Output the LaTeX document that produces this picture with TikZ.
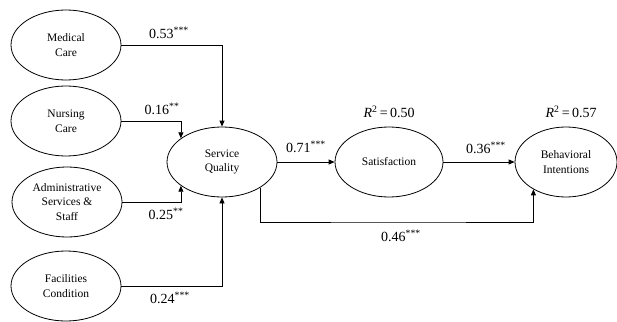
\documentclass[tikz,border=0pt]{standalone}
\usepackage{fontspec}
\setmainfont{Liberation Serif}
\usetikzlibrary{arrows.meta,shapes.geometric}

\begin{document}
\begin{tikzpicture}[x=1pt,y=-1pt,
    latent/.style={draw,ellipse,line width=0.8pt,minimum width=110pt,minimum height=70pt,
      inner sep=0pt,align=center,font=\fontsize{11.5}{14.5}\selectfont},
    path/.style={line width=0.8pt,-{Triangle[length=6pt,width=5pt]}},
    coef/.style={font=\fontsize{14}{16}\selectfont,inner sep=1pt}]
    \useasboundingbox (0,0) rectangle (617,321);
    % exogenous constructs on the left
    \node[latent] (med) at (66,45)  {Medical\\Care};
    \node[latent] (nur) at (66,121) {Nursing\\Care};
    \node[latent] (adm) at (67,202) {Administrative\\Services \&\\Staff};
    \node[latent] (fac) at (66,286) {Facilities\\Condition};
    % mediator and outcomes
    \node[latent] (sq)  at (222,162) {Service\\Quality};
    \node[latent,minimum width=108pt] (sat) at (389,162) {Satisfaction};
    \node[latent,minimum width=102pt] (beh) at (566,162) {Behavioral\\Intentions};
    % explained variance
    \node[coef] (rsat) at (389,112) {\textit{R}\textsuperscript{2}\,=\,0.50};
    \node[coef] (rbeh) at (571,112) {\textit{R}\textsuperscript{2}\,=\,0.57};
    % paths into service quality
    \draw[path] (med.east) -| (sq.north);
    \draw[path] (nur.east) -| (sq.150);
    \draw[path] (adm.east) -| (sq.210);
    \draw[path] (fac.east) -| (sq.south);
    \node[coef] (c53) at (169,33)  {0.53\textsuperscript{***}};
    \node[coef] (c16) at (162,109) {0.16\textsuperscript{**}};
    \node[coef] (c25) at (166,214) {0.25\textsuperscript{**}};
    \node[coef] (c24) at (170,298) {0.24\textsuperscript{***}};
    % paths to the outcomes
    \draw[path] (sq) -- (sat);
    \draw[path] (sat) -- (beh);
    \coordinate (bend) at (400,222);
    \draw[path] (sq.-34) |- (bend) -| (beh.220);
    \node[coef] (c71) at (306,147) {0.71\textsuperscript{***}};
    \node[coef] (c36) at (486,148) {0.36\textsuperscript{***}};
    \node[coef] (c46) at (401,236) {0.46\textsuperscript{***}};
  \end{tikzpicture}
\end{document}
